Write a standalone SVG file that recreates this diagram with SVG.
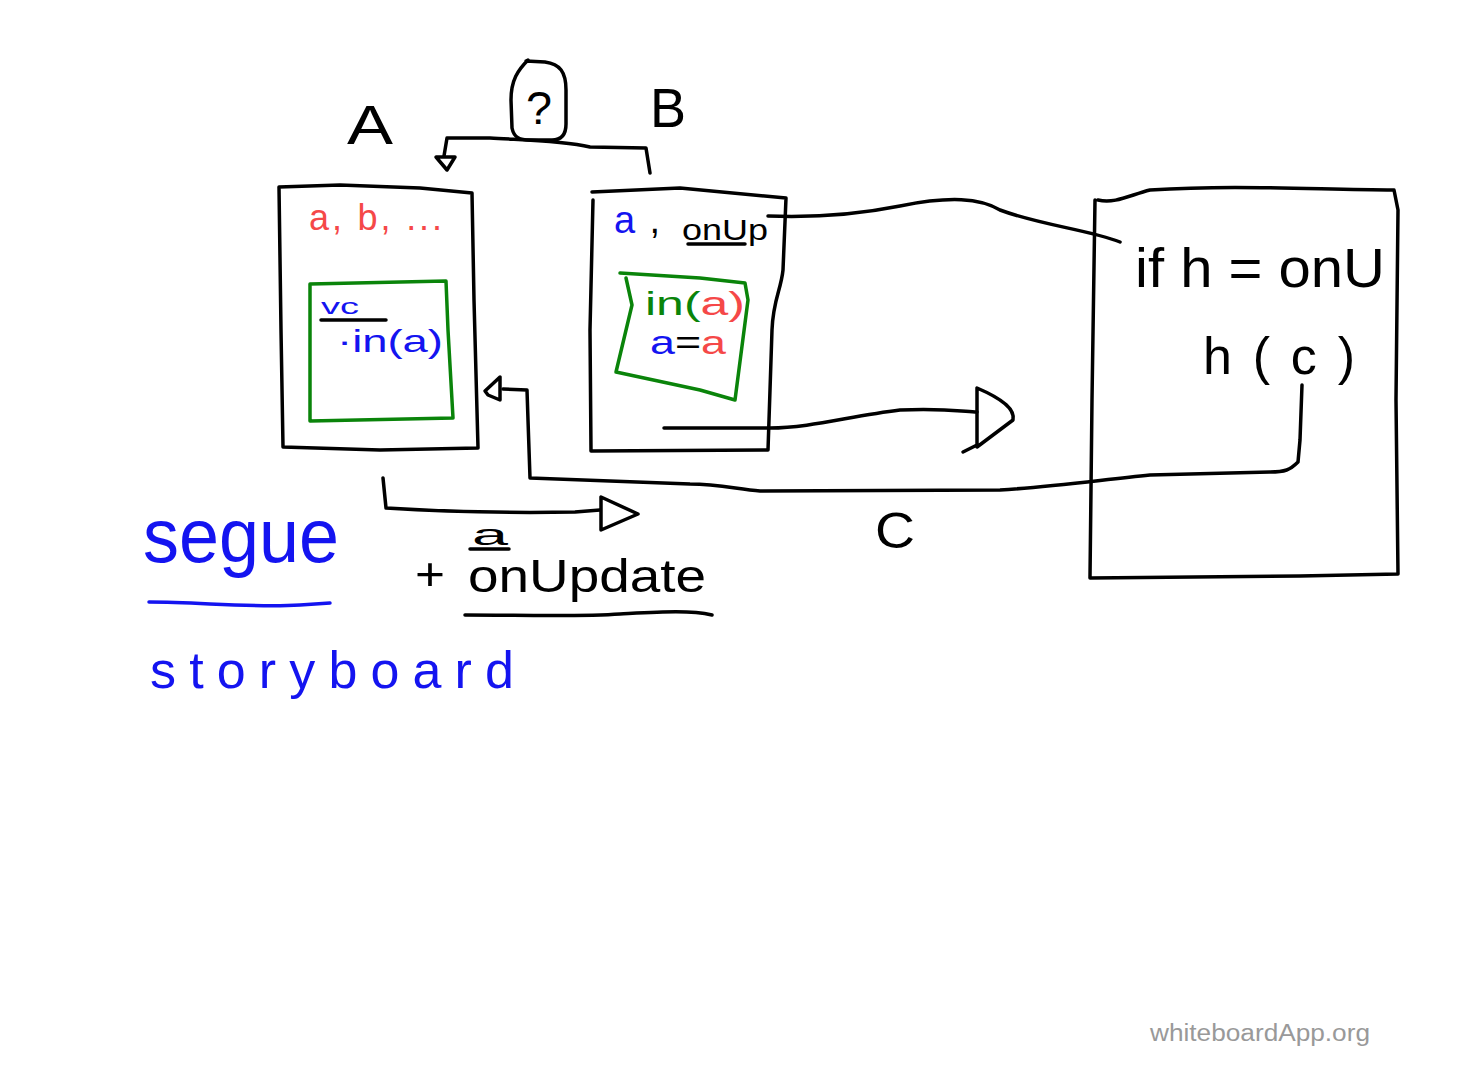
<svg xmlns="http://www.w3.org/2000/svg" width="1473" height="1068" viewBox="0 0 1473 1068">
<style>
.k{fill:none;stroke:#000;stroke-width:3.5;stroke-linecap:round;stroke-linejoin:round}
.g{fill:none;stroke:#0a840a;stroke-width:3.5;stroke-linecap:round;stroke-linejoin:round}
.bl{fill:none;stroke:#1414f0;stroke-width:3.5;stroke-linecap:round;stroke-linejoin:round}
text{font-family:"Liberation Sans","DejaVu Sans",sans-serif}
.tk{fill:#000}.tr{fill:#f54848}.tb{fill:#1414f0}.tg{fill:#0a840a}
</style>
<rect width="1473" height="1068" fill="#fff"/>
<g id="labelA"><text class="tk" x="347" y="144" font-size="56" textLength="46" lengthAdjust="spacingAndGlyphs">A</text></g>
<g id="labelB"><text class="tk" x="650" y="127" font-size="56" textLength="36" lengthAdjust="spacingAndGlyphs">B</text></g>
<g id="question">
<path class="k" d="M528 60 C518 70 511 80 511 100 L512 128 C514 138 520 140 530 140 L552 140 C562 140 566 134 566 124 L566 90 C566 72 560 64 545 62 L526 61"/>
<text class="tk" x="526" y="124" font-size="46" textLength="26" lengthAdjust="spacingAndGlyphs">?</text>
</g>
<g id="nodeA">
<path class="k" d="M279 187 L340 185 L420 188 L472 193 L474 300 L478 448 L380 450 L283 447 L281 330 Z"/>
<text class="tr" x="309" y="230" font-size="36" textLength="133" lengthAdjust="spacing">a, b, ...</text>
<path class="g" d="M310 284 L446 281 L448 330 L453 418 L310 421 Z"/>
<text class="tb" x="321" y="314" font-size="22" textLength="38" lengthAdjust="spacingAndGlyphs">vc</text>
<path class="k" d="M321 320 L386 320"/>
<text class="tb" x="337" y="352" font-size="32" textLength="106" lengthAdjust="spacingAndGlyphs">·in(a)</text>
</g>
<g id="nodeB">
<path class="k" d="M592 192 L680 188 L786 198 L783 270 C781 290 773 300 772 330 L768 450 L591 451 L590 330 L593 200"/>
<text x="614" y="233" font-size="38" textLength="46" lengthAdjust="spacing"><tspan class="tb">a</tspan><tspan class="tk">,</tspan></text>
<text class="tk" x="682" y="240" font-size="30" textLength="86" lengthAdjust="spacingAndGlyphs">onUp</text>
<path class="k" d="M688 244 L745 244"/>
<path class="g" d="M620 273 L700 278 L745 283 L748 300 L735 400 L700 390 L616 372 L632 305 L626 278"/>
<text x="645" y="315" font-size="34" textLength="100" lengthAdjust="spacingAndGlyphs"><tspan class="tg">in(</tspan><tspan class="tr">a)</tspan></text>
<text x="650" y="354" font-size="34" textLength="76" lengthAdjust="spacingAndGlyphs"><tspan class="tb">a</tspan><tspan class="tk">=</tspan><tspan class="tr">a</tspan></text>
</g>
<g id="nodeC">
<path class="k" d="M1098 200 C1115 204 1130 195 1150 190 C1230 185 1300 189 1394 190 L1398 210 L1396 400 L1398 574 L1300 576 L1090 578 L1092 400 L1095 200"/>
<text class="tk" x="1135" y="287" font-size="56" textLength="250" lengthAdjust="spacingAndGlyphs">if h = onU</text>
<text class="tk" x="1203" y="374" font-size="52" textLength="152" lengthAdjust="spacing">h(c)</text>
</g>
<g id="labelC"><text class="tk" x="875" y="548" font-size="50" textLength="40" lengthAdjust="spacingAndGlyphs">C</text></g>
<g id="connectors">
<path class="k" d="M650 173 L646 148 L590 147 C560 140 520 140 490 138 L447 138 L444 156"/>
<path class="k" d="M436 157 L455 157 L447 170 Z"/>
<path class="k" d="M768 216 C820 218 860 214 900 206 C950 196 980 198 1000 210 C1040 225 1090 230 1120 242"/>
<path class="k" d="M664 428 L770 428 C810 428 850 416 900 410 C940 408 960 411 977 412"/>
<path class="k" d="M977 388 L977 447 L1013 420 C1015 410 1005 400 977 388 Z M963 452 L977 445"/>
<path class="k" d="M1302 385 L1300 440 L1298 462 C1290 470 1285 472 1270 472 L1150 475 C1100 480 1050 487 1000 490 L760 491 C740 490 720 484 690 484 L530 478 L528 420 L527 390 L503 389"/>
<path class="k" d="M500 377 L500 400 L488 395 L485 391 Z"/>
<path class="k" d="M383 478 L386 508 C450 512 520 513 575 512 L600 510"/>
<path class="k" d="M601 497 L601 530 L638 514 L601 497 Z"/>
</g>
<g id="segue">
<text class="tb" x="143" y="562" font-size="76" textLength="196" lengthAdjust="spacingAndGlyphs">segue</text>
<path class="bl" d="M149 602 C200 602 250 608 300 605 L330 603"/>
<text class="tb" x="150" y="688" font-size="52" textLength="364" lengthAdjust="spacing">storyboard</text>
</g>
<g id="onUpdate">
<text class="tk" x="415" y="590" font-size="46" textLength="30" lengthAdjust="spacingAndGlyphs">+</text>
<text class="tk" x="472" y="545" font-size="30" textLength="36" lengthAdjust="spacingAndGlyphs">a</text>
<path class="k" d="M470 549 L509 549"/>
<text class="tk" x="468" y="592" font-size="46" textLength="238" lengthAdjust="spacingAndGlyphs">onUpdate</text>
<path class="k" d="M465 615 C520 615 580 617 620 614 C660 612 690 610 712 615"/>
</g>
<text x="1150" y="1041" font-size="23" fill="#999" textLength="220" lengthAdjust="spacingAndGlyphs">whiteboardApp.org</text>
</svg>
